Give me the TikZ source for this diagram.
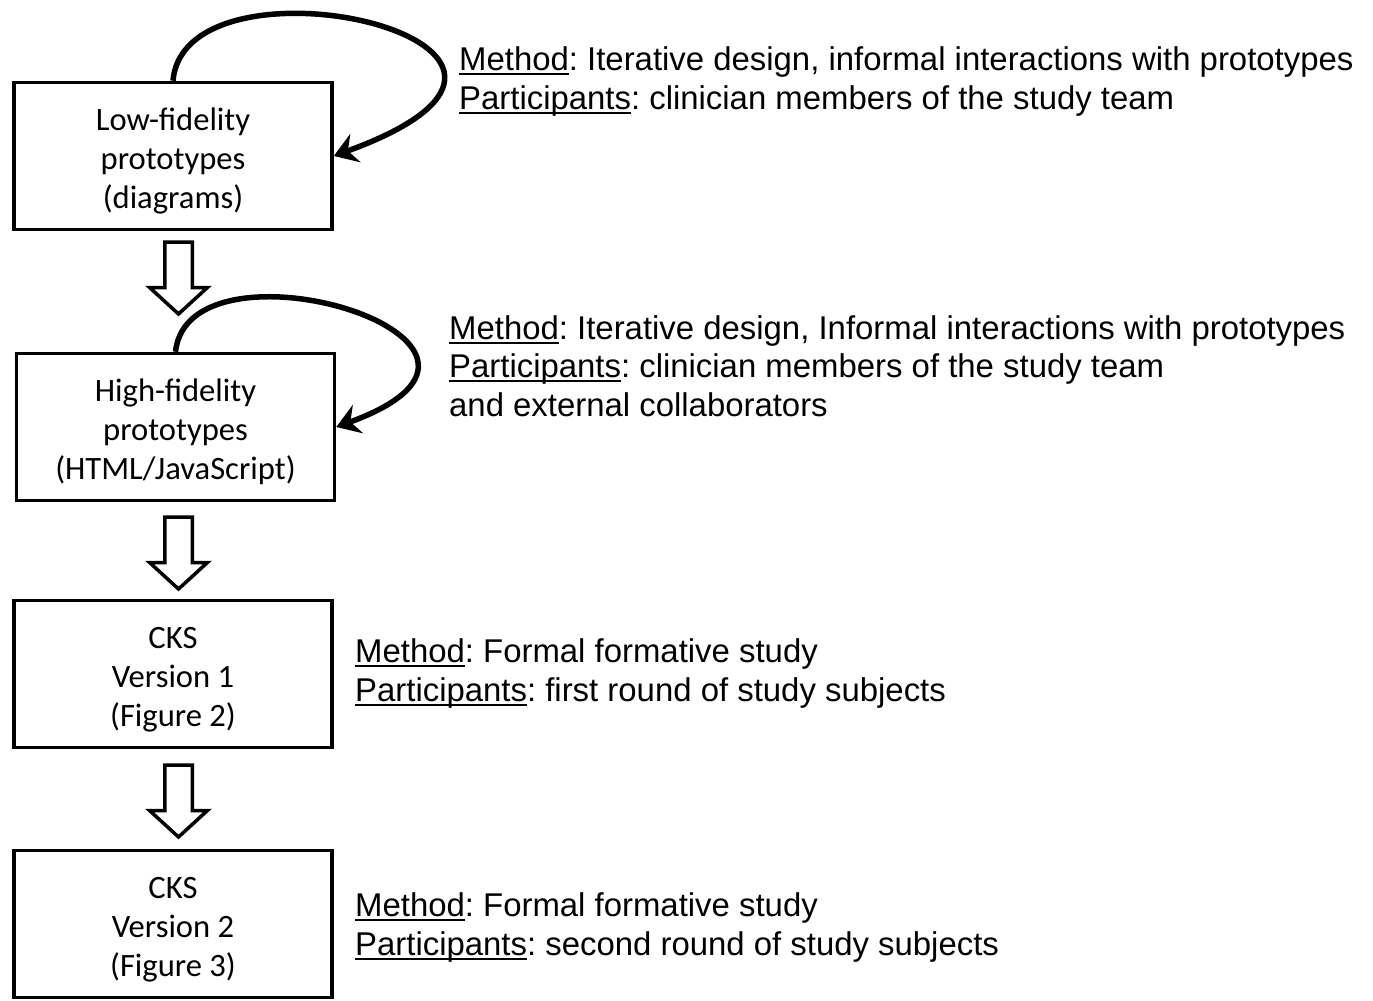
\documentclass[tikz,border=0pt]{standalone}
\usepackage{fontspec}
\setmainfont{Liberation Sans}
\newfontfamily\boxfont{Carlito}
\usetikzlibrary{positioning,shapes.arrows,arrows.meta,calc}
\newcommand{\undl}[1]{\setbox0\hbox{#1}\rlap{\rule[-4.5bp]{\wd0}{1.8bp}}#1}

\begin{document}
\begin{tikzpicture}[x=1bp, y=1bp,
    stage/.style={draw, line width=3.5bp, minimum width=318bp, minimum height=147bp,
      inner sep=0pt, align=center, font=\boxfont\fontsize{32.6bp}{39bp}\selectfont,
      text height=118bp, text depth=14bp},
    note/.style={anchor=base west, align=left, inner sep=0pt,
      font=\fontsize{32.9bp}{38.3bp}\selectfont\frenchspacing},
    hollow/.style={single arrow, draw, line width=3.5bp, rotate=-90, anchor=tail,
      minimum height=72bp, text height=24bp, text depth=0pt, single arrow head extend=15bp,
      single arrow tip angle=95, inner sep=0pt},
    iterate/.style={line width=5.5bp, -{Stealth[length=23bp, width=30bp, inset=8bp]}}]
    \useasboundingbox (0,0) rectangle (1373,-1000);
    \node[stage] (lofi) at (173,-156) {Low-fidelity\\prototypes\\(diagrams)};
    \node[stage, node distance=271bp, below of=lofi, xshift=2.5bp] (hifi) {High-fidelity\\prototypes\\(HTML/JavaScript)};
    \node[stage, node distance=247bp, below of=hifi, xshift=-2.5bp] (cks1) {CKS\\Version 1\\(Figure 2)};
    \node[stage, node distance=250bp, below of=cks1] (cks2) {CKS\\Version 2\\(Figure 3)};
    % hollow arrows between the stages
    \node[hollow] (down1) at ([xshift=5.5bp, yshift=-9bp]lofi.south) {};
    \node[hollow] (down2) at ([xshift=3bp, yshift=-13bp]hifi.south) {};
    \node[hollow] (down3) at ([xshift=5.5bp, yshift=-14bp]cks1.south) {};
    % iteration loops
    \draw[iterate] (lofi.north) .. controls +(85:140) and +(20:325) .. (lofi.east);
    \draw[iterate] (hifi.north) .. controls +(84:125) and +(20:250) .. (hifi.east);
    \node[note] (lofinote) at (459,-109) {\undl{Method}: Iterative design, informal interactions with prototypes\\
      \undl{Participants}: clinician members of the study team};
    \node[note] (hifinote) at (449,-416) {\undl{Method}: Iterative design, Informal interactions with prototypes\\
      \undl{Participants}: clinician members of the study team\\
      and external collaborators};
    \node[note] (cks1note) at (355,-701) {\undl{Method}: Formal formative study\\
      \undl{Participants}: first round of study subjects};
    \node[note] (cks2note) at (355,-955) {\undl{Method}: Formal formative study\\
      \undl{Participants}: second round of study subjects};
\end{tikzpicture}
\end{document}
